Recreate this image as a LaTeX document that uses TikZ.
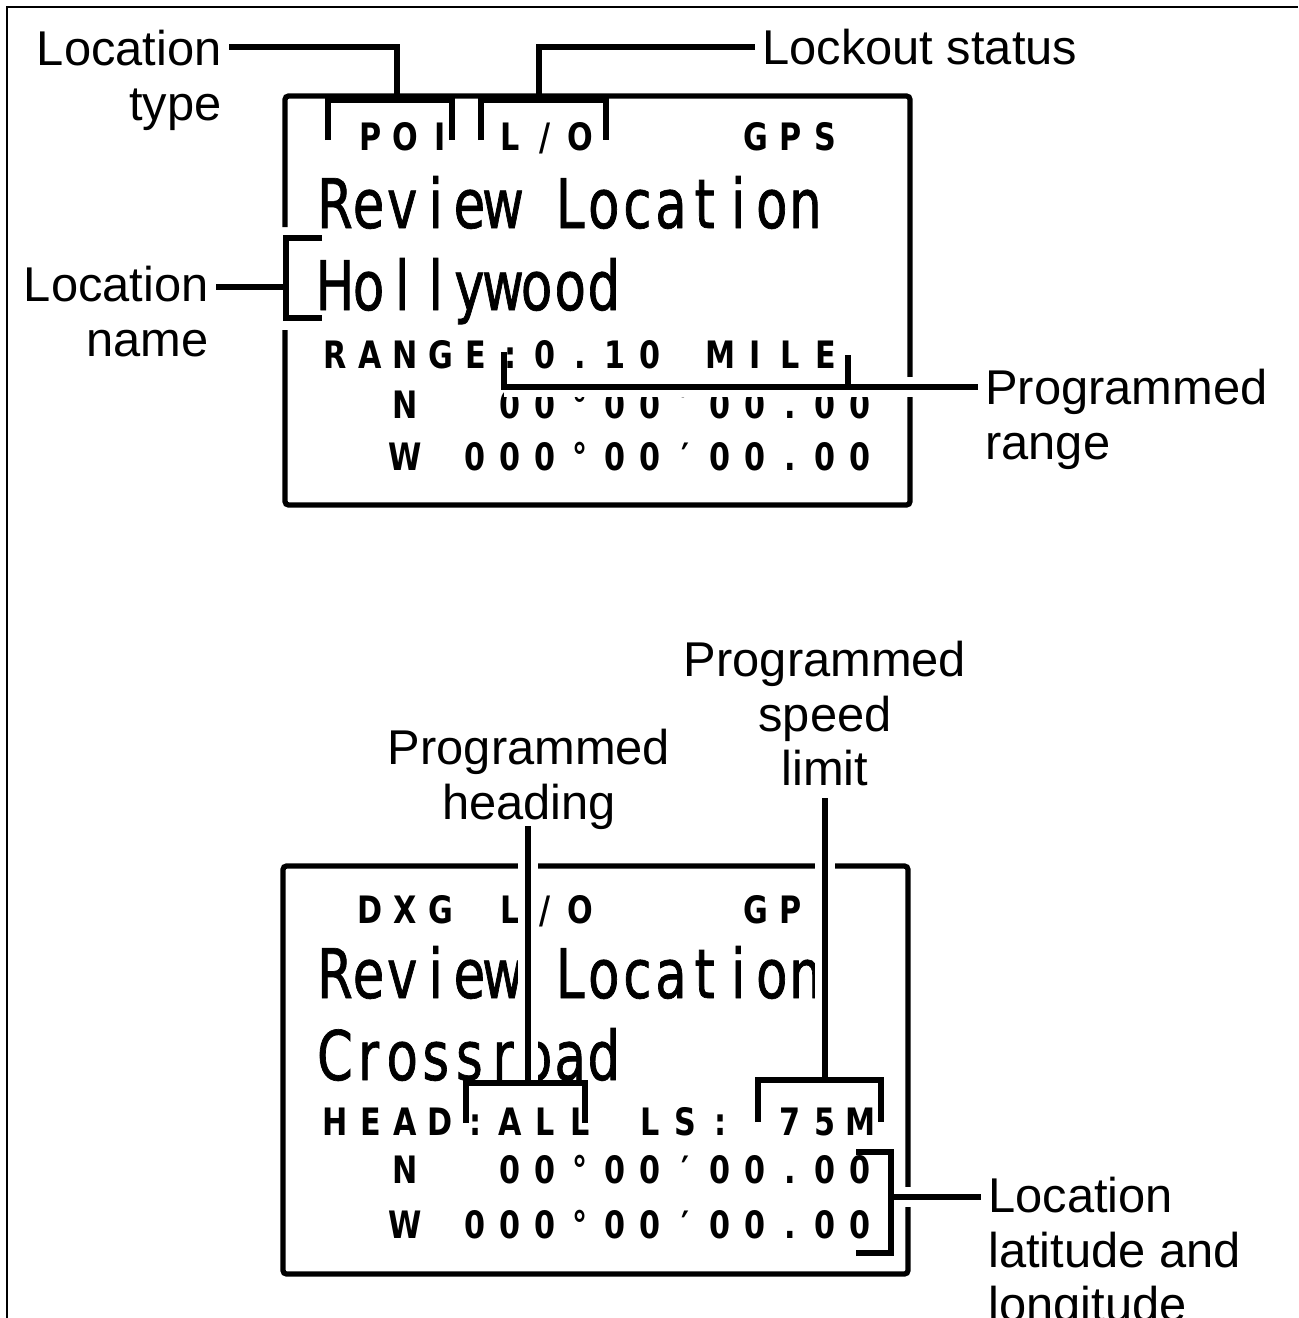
\documentclass[tikz,border=0pt]{standalone}
\usepackage{fontspec}
\setmainfont{Liberation Sans}
\newfontfamily\lcdfont[FakeStretch=0.75, FakeBold=1]{DejaVu Sans}
\newfontfamily\lcdsmallfont[FakeStretch=0.8]{DejaVu Sans Bold}

\begin{document}
\begin{tikzpicture}[x=0.02cm, y=-0.02cm,
    callout/.style={font=\fontsize{27.8}{31}\selectfont, inner sep=4pt},
    lcdframe/.style={draw, line width=3pt, rounded corners=2pt},
    bigchar/.style={anchor=base, inner sep=0pt, font=\lcdfont\fontsize{38.9}{40}\selectfont},
    smallchar/.style={anchor=base, inner sep=0pt, font=\lcdsmallfont\fontsize{21.5}{23}\selectfont},
    lead/.style={line width=3.2pt},
    halo/.style={preaction={draw, white, line width=11pt}}
]
\useasboundingbox (0,0) rectangle (1298,1318);
\draw[line width=1.3pt] (7,1318) -- (7,7) -- (1298,7);

% Display frames
\draw[lcdframe] (285,227) -- (285,96) -- (910,96) -- (910,505) -- (285,505) -- (285,330);
\draw[lcdframe] (283,866) rectangle (908,1274);

% Top display
\foreach \c [count=\k from 0] in {,P,O,I,,L,/,O,,,,,G,P,S}
    \node[smallchar] (ta\k) at (335.5+35*\k,151) {\c};
\foreach \c [count=\k from 0] in {R,e,v,i,e,w,,L,o,c,a,t,i,o,n}
    \node[bigchar] (tb\k) at (335+33.6*\k,228) {\c};
\foreach \c [count=\k from 0] in {H,o,l,l,y,w,o,o,d}
    \node[bigchar] (tc\k) at (335+33.6*\k,310) {\c};
\foreach \c [count=\k from 0] in {R,A,N,G,E,:,0,.,1,0,,M,I,L,E}
    \node[smallchar] (td\k) at (335.5+35*\k,368) {\c};
\foreach \c [count=\k from 0] in {,,N,,,0,0,°,0,0,′,0,0,.,0,0}
    \node[smallchar] (te\k) at (335.5+35*\k,418) {\c};
\foreach \c [count=\k from 0] in {,,W,,0,0,0,°,0,0,′,0,0,.,0,0}
    \node[smallchar] (tf\k) at (335.5+35*\k,470) {\c};

% Bottom display
\foreach \c [count=\k from 0] in {,D,X,G,,L,/,O,,,,,G,P,S}
    \node[smallchar] (ba\k) at (335.5+35*\k,923) {\c};
\foreach \c [count=\k from 0] in {R,e,v,i,e,w,,L,o,c,a,t,i,o,n}
    \node[bigchar] (bb\k) at (335+33.6*\k,998) {\c};
\foreach \c [count=\k from 0] in {C,r,o,s,s,r,o,a,d}
    \node[bigchar] (bc\k) at (335+33.6*\k,1080) {\c};
\foreach \c [count=\k from 0] in {H,E,A,D,:,A,L,L,,L,S,:,,7,5,M}
    \node[smallchar] (bd\k) at (335.5+35*\k,1135) {\c};
\foreach \c [count=\k from 0] in {,,N,,,0,0,°,0,0,′,0,0,.,0,0}
    \node[smallchar] (be\k) at (335.5+35*\k,1183) {\c};
\foreach \c [count=\k from 0] in {,,W,,0,0,0,°,0,0,′,0,0,.,0,0}
    \node[smallchar] (bf\k) at (335.5+35*\k,1238) {\c};

% Callouts, top
\node[callout, anchor=north east, align=right] (loctype) at (229,23) {Location\\type};
\coordinate (typeTurn) at (397,47);
\draw[lead] (loctype.east |- typeTurn) -- (typeTurn) -- (397,100);
\draw[lead] (328,140) -- (328,100) -- (452,100) -- (452,140);

\node[callout, anchor=west] (lockout) at (755,47) {Lockout status};
\coordinate (lockTurn) at (539,47);
\draw[lead] (lockout.west) -- (lockTurn) -- (539,100);
\draw[lead] (481,140) -- (481,100) -- (606,100) -- (606,140);

\node[callout, anchor=north east, align=right] (locname) at (216,259) {Location\\name};
\coordinate (nameJoin) at (286,287);
\draw[lead] (locname.east |- nameJoin) -- (nameJoin);
\draw[lead] (322,238) -- (286,238) -- (286,318) -- (322,318);

\node[callout, anchor=north west, align=left] (rangelbl) at (978,362) {Programmed\\range};
\coordinate (rngJoin) at (504,387);
\draw[lead, halo] (rngJoin) -- (rangelbl.west |- rngJoin);
\draw[lead] (504,352) -- (rngJoin) -- (rangelbl.west |- rngJoin);
\draw[lead] (848,355) -- (848,387);

% Callouts, bottom
\node[callout, anchor=north, align=center] (headlbl) at (529,722) {Programmed\\heading};
\coordinate (headTop) at (528,826);
\coordinate (headBar) at (528,1083);
\draw[lead, halo] (headTop) -- (headBar);
\draw[lead] (466,1123) -- (466,1083) -- (585,1083) -- (585,1123);

\node[callout, anchor=north, align=center] (speedlbl) at (825,634) {Programmed\\speed\\limit};
\coordinate (speedTop) at (825,798);
\coordinate (speedBar) at (825,1080);
\draw[lead, halo] (speedTop) -- (speedBar);
\draw[lead] (758,1122) -- (758,1080) -- (881,1080) -- (881,1122);

\node[callout, anchor=north west, align=left] (latlbl) at (981,1170) {Location\\latitude and\\longitude};
\coordinate (latJoin) at (891,1197);
\draw[lead, halo] (latJoin) -- (latlbl.west |- latJoin);
\draw[lead] (856,1152) -- (891,1152) -- (891,1253) -- (856,1253);

\end{tikzpicture}
\end{document}
